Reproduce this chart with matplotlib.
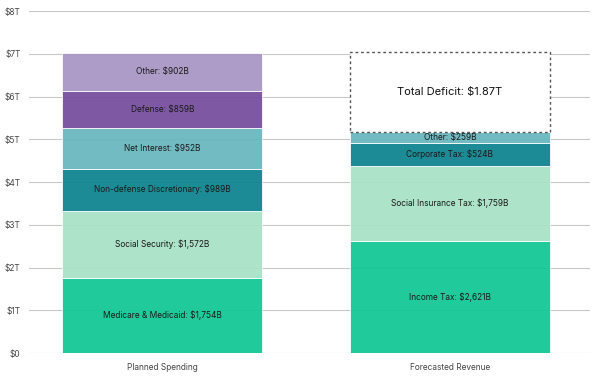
import matplotlib.pyplot as plt

plt.rcParams['font.family'] = ['Inter', 'DejaVu Sans']

# spending components, bottom to top (billions)
spend_labels = ['Medicare & Medicaid', 'Social Security', 'Non-defense Discretionary',
                'Net Interest', 'Defense', 'Other']
spend_values = [1754, 1572, 989, 952, 859, 902]
spend_colors = ['#14c896', '#a9e2c6', '#10858f', '#6ab8c0', '#774f9e', '#a996c5']

# revenue components, bottom to top (billions)
rev_labels = ['Income Tax', 'Social Insurance Tax', 'Corporate Tax', 'Other']
rev_values = [2621, 1759, 524, 259]
rev_colors = ['#14c896', '#a9e2c6', '#10858f', '#6ab8c0']

deficit = 1870
categories = ['Planned Spending', 'Forecasted Revenue']
yticks = [0, 1000, 2000, 3000, 4000, 5000, 6000, 7000, 8000]
ytick_labels = ['$0', '$1T', '$2T', '$3T', '$4T', '$5T', '$6T', '$7T', '$8T']

fig = plt.figure(figsize=(6, 3.79), dpi=100)
ax = fig.add_axes([29 / 600, 26 / 379, 561 / 600, 342 / 379])

width = 0.696


def stack(x, values, labels, colors, fs=6):
    bottom = 0
    for v, lab, c in zip(values, labels, colors):
        ax.bar(x, v, width, bottom=bottom, color=c, alpha=0.95,
               edgecolor='white', linewidth=0.6, zorder=2)
        ax.text(x, bottom + v / 2, f'{lab}: ${v:,}B', ha='center', va='center',
                fontsize=fs, color='#1a1a1a', zorder=3)
        bottom += v
    return bottom


stack(0, spend_values, spend_labels, spend_colors)
top = stack(1, rev_values, rev_labels, rev_colors)

ax.bar(1, deficit, width, bottom=top, color='white', edgecolor='#555555',
       linewidth=1.0, linestyle=(0, (2, 2)), zorder=2)
ax.text(1, top + deficit / 2, f'Total Deficit: ${deficit / 1000:.2f}T',
        ha='center', va='center', fontsize=8, color='#111111', zorder=3)

ax.set_xlim(-0.464, 1.487)
ax.set_ylim(0, 8000)
ax.set_yticks(yticks)
ax.set_yticklabels(ytick_labels)
ax.set_xticks([0, 1])
ax.set_xticklabels(categories)
ax.tick_params(axis='both', length=0, labelsize=6, labelcolor='#444444')
ax.tick_params(axis='y', pad=6)
ax.tick_params(axis='x', pad=7)
ax.grid(axis='y', color='#c8c8c8', linewidth=0.8, zorder=1)
ax.set_axisbelow(True)
for s in ax.spines.values():
    s.set_visible(False)

fig.savefig('out.png', dpi=100)
